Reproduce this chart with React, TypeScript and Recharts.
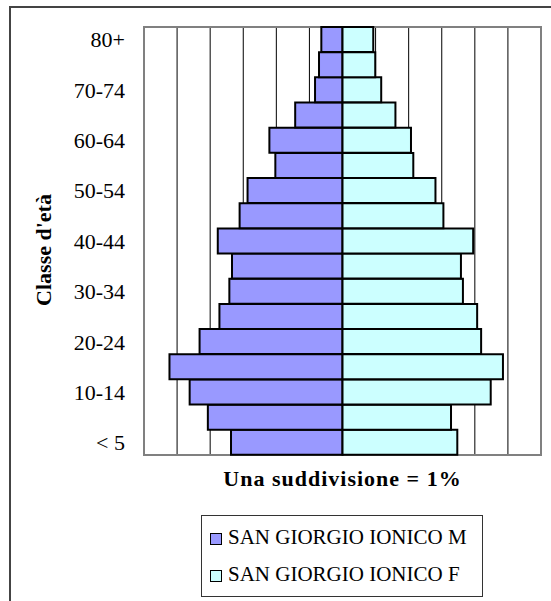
import {
  BarChart,
  Bar,
  XAxis,
  YAxis,
  CartesianGrid,
  ReferenceArea,
  Legend,
} from "recharts";

const ages = [
  "< 5", "5-9", "10-14", "15-19", "20-24", "25-29", "30-34", "35-39", "40-44",
  "45-49", "50-54", "55-59", "60-64", "65-69", "70-74", "75-79", "80+",
];
// percentuali
const maschi = [3.37, 4.07, 4.62, 5.23, 4.32, 3.72, 3.42, 3.34, 3.77, 3.11, 2.87, 2.03, 2.21, 1.43, 0.83, 0.71, 0.64];
const femmine = [3.47, 3.28, 4.48, 4.85, 4.19, 4.07, 3.64, 3.58, 3.95, 3.05, 2.81, 2.14, 2.07, 1.6, 1.17, 0.99, 0.93];
const divisioni = [-6, -5, -4, -3, -2, -1, 0, 1, 2, 3, 4, 5, 6];

const data = ages.map((age, i) => ({ age, m: -maschi[i], f: femmine[i] }));

const serif = "'Times New Roman', 'Liberation Serif', serif";

const LegendBox = ({ payload }: any) => {
  const items = [...(payload || [])].sort((a: any, b: any) =>
    a.dataKey === "m" ? -1 : b.dataKey === "m" ? 1 : 0
  );
  return (
    <div
      style={{
        border: "1px solid #333",
        boxSizing: "border-box",
        width: "100%",
        height: "100%",
        paddingTop: 3,
        paddingLeft: 8,
        fontFamily: serif,
        fontSize: 21,
      }}
    >
      {items.map((p: any) => (
        <div key={p.value} style={{ display: "flex", alignItems: "center", height: 37 }}>
          <span
            style={{
              display: "inline-block",
              width: 10,
              height: 10,
              border: "1.5px solid #000",
              background: p.color,
              marginRight: 6,
              marginTop: 3,
            }}
          />
          <span>{p.value}</span>
        </div>
      ))}
    </div>
  );
};

const AgeLabel = () => (
  <text
    x={51}
    y={250}
    transform="rotate(-90 51 250)"
    textAnchor="middle"
    fontFamily={serif}
    fontSize={22}
    fontWeight="bold"
    fill="#000"
  >
    Classe d'età
  </text>
);

const gridX = ({ xAxis, offset }: any) =>
  divisioni.map((v) =>
    xAxis && typeof xAxis.scale === "function"
      ? xAxis.scale(v)
      : offset.left + ((v + 6) / 12) * offset.width
  );

export default function App() {
  return (
    <div style={{ position: "absolute", left: 0, top: 0, width: 551, height: 601, background: "#fff" }}>
      <div
        style={{
          position: "absolute",
          left: 9,
          top: 6,
          width: 542,
          height: 595,
          borderTop: "2px solid #444",
          borderLeft: "2px solid #444",
          boxSizing: "border-box",
        }}
      />
      <BarChart
        width={551}
        height={601}
        data={data}
        layout="vertical"
        stackOffset="sign"
        barCategoryGap={0}
        margin={{ top: 27, right: 10, left: 0, bottom: 116 }}
        style={{ position: "absolute", left: 0, top: 0 }}
      >
        <CartesianGrid
          horizontal={false}
          stroke="#000"
          strokeWidth={1}
          verticalCoordinatesGenerator={gridX}
        />
        <XAxis
          type="number"
          domain={[-6, 6]}
          ticks={divisioni}
          tick={false}
          tickLine={false}
          axisLine={false}
          height={30}
          label={{
            value: "Una suddivisione = 1%",
            position: "insideTop",
            offset: 15,
            fill: "#000",
            fontFamily: serif,
            fontSize: 22,
            fontWeight: "bold",
            letterSpacing: 1,
          }}
        />
        <YAxis
          type="category"
          dataKey="age"
          reversed
          width={144}
          interval={1}
          tickLine={false}
          axisLine={false}
          tickMargin={13}
          tick={{ fill: "#000", fontFamily: serif, fontSize: 22 }}
          label={<AgeLabel />}
        />
        <ReferenceArea x1={-6} x2={6} fill="none" fillOpacity={0} stroke="#808080" strokeWidth={2} />
        <Bar
          dataKey="m"
          name="SAN GIORGIO IONICO M"
          stackId="pop"
          fill="#9999FF"
          stroke="#000"
          strokeWidth={2}
          isAnimationActive={false}
        />
        <Bar
          dataKey="f"
          name="SAN GIORGIO IONICO F"
          stackId="pop"
          fill="#CCFFFF"
          stroke="#000"
          strokeWidth={2}
          isAnimationActive={false}
        />
        <Legend
          layout="vertical"
          align="center"
          verticalAlign="middle"
          content={<LegendBox />}
          wrapperStyle={{ left: 201, top: 515, width: 282, height: 82 }}
        />
      </BarChart>
    </div>
  );
}
